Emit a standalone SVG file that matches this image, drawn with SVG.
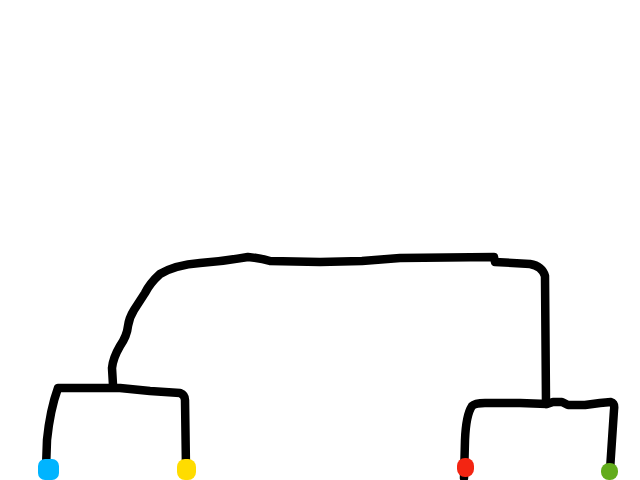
<svg xmlns="http://www.w3.org/2000/svg" width="640" height="480" viewBox="0 0 640 480">
<style>
.edge{fill:none;stroke:#000;stroke-width:8.5;stroke-linecap:round;stroke-linejoin:round}
</style>
<rect width="640" height="480" fill="#fff"/>
<g id="connectors">
<path class="edge" d="M113,385 L112,368 Q113,358 120,346 Q127,336 128,326 Q129,318 134,310 L145,293 Q150,283 160,274 Q175,265 200,263 Q225,261 248,257 Q260,258 270,261 L320,262 L362,261 L400,258 L494,257 L495,262 L530,264 Q542,266 545,276 L546,404"/>
<path class="edge" d="M46,468 L47,440 Q50,410 58,388 L120,388 L150,391 L180,393 Q185,395 185,400 L186,468"/>
<path class="edge" d="M464,478 L465,440 Q466,415 472,406 Q475,403 485,403 L520,403 L547,404 L553,402 L562,402 L568,405 L585,405 L600,403 L611,402 Q615,403 614,410 L612,440 L610,470"/>
</g>
<g id="leaf-blue"><rect x="38" y="459" width="21" height="21" rx="7" fill="#00b4ff"/></g>
<g id="leaf-yellow"><rect x="177" y="459" width="19" height="21" rx="8" fill="#ffdc00"/></g>
<g id="leaf-red"><rect x="457" y="458" width="17" height="19" rx="8" fill="#f32512"/></g>
<g id="leaf-green"><rect x="601" y="463" width="17" height="17" rx="8" fill="#62ac1c"/></g>
</svg>
